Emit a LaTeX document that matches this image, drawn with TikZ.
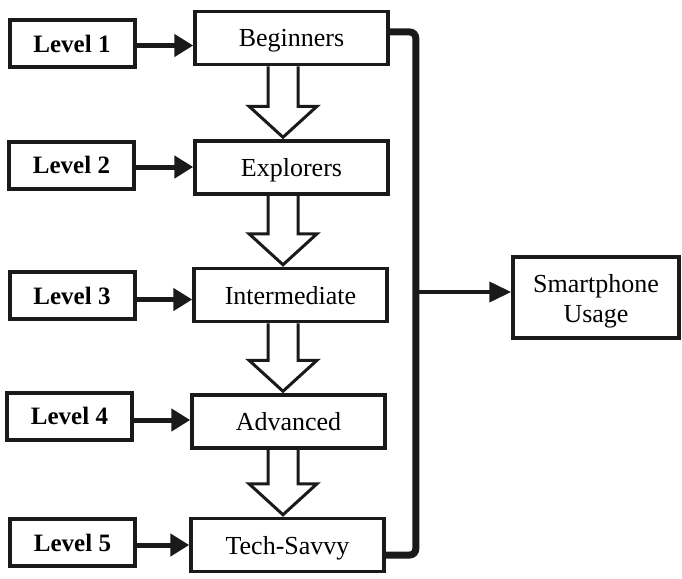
\documentclass[tikz,border=0pt]{standalone}
\usepackage{fontspec}
\setmainfont{Liberation Serif}
\usetikzlibrary{arrows.meta,calc,backgrounds}
\definecolor{ink}{HTML}{1A1A1A}
\begin{document}
\begin{tikzpicture}[x=1pt,y=-1pt,
  boxed/.style={draw=ink,line width=3.5pt,inner sep=0pt,font=\fontsize{26}{30}\selectfont},
  stage/.style={boxed,minimum width=193pt,minimum height=53pt,text depth=0pt},
  level/.style={draw=ink,line width=4pt,minimum width=125pt,minimum height=47pt,
    inner sep=0pt,text depth=0pt,font=\fontsize{25}{30}\selectfont\bfseries},
  feed/.style={draw=ink,line width=5pt,-{Triangle[length=19pt,width=22pt]}},
  outlink/.style={draw=ink,line width=4pt,-{Triangle[length=22pt,width=20pt]}},
  bus/.style={draw=ink,line width=7pt,rounded corners=6pt},
  hollow/.style={draw=ink,line width=3pt,fill=white,line join=miter},
]
\useasboundingbox (0,0) rectangle (682,578);

% input levels
\node[level] (L1) at (72,43.5)   {Level 1};
\node[level] (L2) at (71.5,165)  {Level 2};
\node[level] (L3) at (72,295.5)  {Level 3};
\node[level] (L4) at (69.5,416)  {Level 4};
\node[level] (L5) at (72.5,542.5){Level 5};

% user stages
\node[stage] (S1) at (291.5,38)   {Beginners};
\node[stage] (S2) at (291.5,167.5){Explorers};
\node[stage] (S3) at (290.5,295)  {Intermediate};
\node[stage] (S4) at (288.5,421.5){Advanced};
\node[stage] (S5) at (287.5,545)  {Tech-Savvy};

% outcome
\node[boxed,minimum width=166pt,minimum height=81pt,align=center] (U) at (596,297.5)
  {\rule{0pt}{25pt}Smartphone\\Usage};

% level -> stage arrows
\draw[feed] ([yshift=-2pt]L1.east) -- ([yshift=-2pt]L1.east -| S1.west);
\draw[feed] ([yshift=-2pt]L2.east) -- ([yshift=-2pt]L2.east -| S2.west);
\draw[feed] ([yshift=-4pt]L3.east) -- ([yshift=-4pt]L3.east -| S3.west);
\draw[feed] ([yshift=-4pt]L4.east) -- ([yshift=-4pt]L4.east -| S4.west);
\draw[feed] ([yshift=-2.5pt]L5.east) -- ([yshift=-2.5pt]L5.east -| S5.west);

% hollow progression arrows between stages
\begin{scope}[on background layer]
  \foreach \a/\b in {S1/S2,S2/S3,S3/S4,S4/S5}{
    \draw[hollow] let \p1=(\a.south), \p2=(\b.north) in
      (268pt,\y1) -- (268pt,\y2+33pt) -- (249pt,\y2+33pt) -- (283pt,\y2+2pt)
      -- (317pt,\y2+33pt) -- (298pt,\y2+33pt) -- (298pt,\y1);
  }
\end{scope}

% collecting bus and output arrow
\draw[bus] ([yshift=6pt]S1.east) -- ++(26,0) coordinate (bt) |- ([yshift=-10pt]S5.east);
\coordinate (J) at ($(bt)+(0,260)$);
\draw[outlink] (J) -- (J -| U.west);
\end{tikzpicture}
\end{document}
